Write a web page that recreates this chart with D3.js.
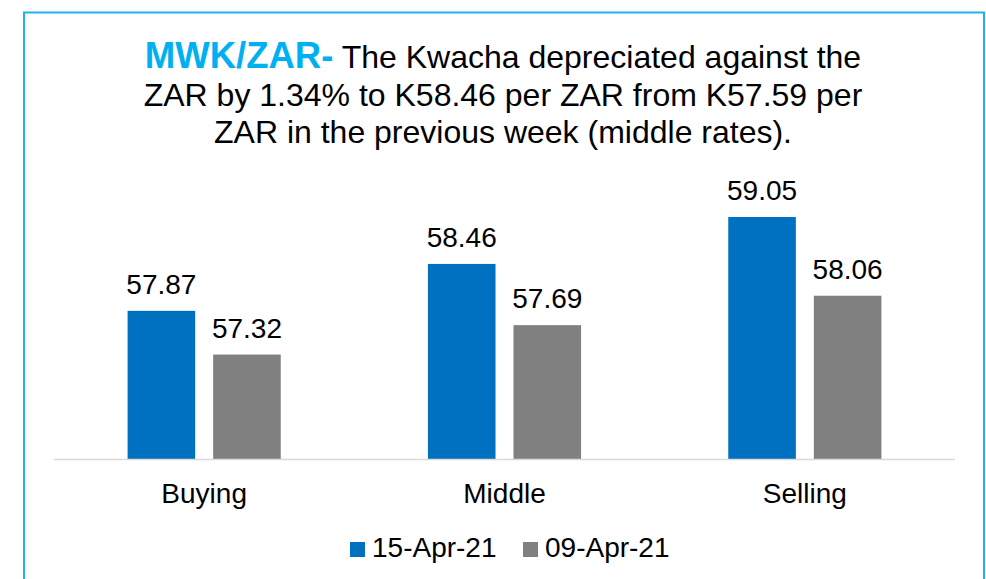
<!DOCTYPE html>
<html>
<head>
<meta charset="utf-8">
<script src="https://cdn.jsdelivr.net/npm/d3@7"></script>
<style>
  html, body { margin: 0; padding: 0; background: #fff; }
  svg { display: block; font-family: "Liberation Sans", Arial, sans-serif; }
</style>
</head>
<body>
<svg id="chart"></svg>
<script>
// data
const categories = ["Buying", "Middle", "Selling"];
const seriesNames = ["15-Apr-21", "09-Apr-21"];
const apr15 = [57.87, 58.46, 59.05];
const apr09 = [57.32, 57.69, 58.06];
const seriesColors = ["#0070c0", "#808080"];
const yDomain = [56, 60];

const width = 986;
const height = 579;

const svg = d3.select("#chart")
  .attr("width", width)
  .attr("height", height);

// frame
svg.append("rect")
  .attr("x", 24)
  .attr("y", 12.5)
  .attr("width", 960)
  .attr("height", 600)
  .attr("fill", "none")
  .attr("stroke", "#1cb4f0")
  .attr("stroke-width", 2);

// title
const title = svg.append("text")
  .attr("text-anchor", "middle")
  .attr("fill", "#000");

const titleLines = [
  " The Kwacha depreciated against the",
  "ZAR by 1.34% to K58.46 per ZAR from K57.59 per",
  "ZAR in the previous week (middle rates)."
];

title.append("tspan")
  .attr("x", 503)
  .attr("y", 67.5)
  .attr("font-size", 36.5)
  .attr("font-weight", "bold")
  .attr("fill", "#00b0f0")
  .text("MWK/ZAR-");
title.append("tspan")
  .attr("font-size", 32)
  .text(titleLines[0]);
title.append("tspan")
  .attr("x", 503)
  .attr("y", 105.5)
  .attr("font-size", 32)
  .text(titleLines[1]);
title.append("tspan")
  .attr("x", 503)
  .attr("y", 143)
  .attr("font-size", 32)
  .text(titleLines[2]);

// scales
const plotLeft = 54, plotRight = 955, plotBottom = 459.5, plotTop = 141.5;

const x0 = d3.scaleBand()
  .domain(categories)
  .range([plotLeft, plotRight])
  .paddingInner(0.49)
  .paddingOuter(0.245);

const x1 = d3.scaleBand()
  .domain(seriesNames)
  .range([0, x0.bandwidth()])
  .paddingInner(0.21);

const y = d3.scaleLinear()
  .domain(yDomain)
  .range([plotBottom, plotTop]);

const rows = categories.map((c, i) => ({
  category: c,
  values: [
    { name: seriesNames[0], value: apr15[i] },
    { name: seriesNames[1], value: apr09[i] }
  ]
}));

const color = d3.scaleOrdinal().domain(seriesNames).range(seriesColors);

// bars
const groups = svg.append("g")
  .selectAll("g")
  .data(rows)
  .join("g")
  .attr("transform", d => "translate(" + x0(d.category) + ",0)");

groups.selectAll("rect")
  .data(d => d.values)
  .join("rect")
  .attr("x", d => x1(d.name))
  .attr("y", d => y(d.value))
  .attr("width", x1.bandwidth())
  .attr("height", d => plotBottom - y(d.value))
  .attr("fill", d => color(d.name));

// value labels
groups.selectAll("text")
  .data(d => d.values)
  .join("text")
  .attr("x", d => x1(d.name) + x1.bandwidth() / 2)
  .attr("y", d => y(d.value) - 17)
  .attr("text-anchor", "middle")
  .attr("font-size", 28)
  .attr("fill", "#000")
  .text(d => d.value.toFixed(2));

// x axis
const xAxis = d3.axisBottom(x0).tickSize(0).tickPadding(0);
const gx = svg.append("g")
  .attr("transform", "translate(0," + plotBottom + ")")
  .call(xAxis);
gx.select(".domain").remove();
gx.selectAll("text")
  .attr("font-family", "Liberation Sans, Arial, sans-serif")
  .attr("font-size", 28)
  .attr("fill", "#000")
  .attr("dy", null)
  .attr("y", 43.5);

svg.append("line")
  .attr("x1", plotLeft)
  .attr("x2", plotRight)
  .attr("y1", plotBottom)
  .attr("y2", plotBottom)
  .attr("stroke", "#d9d9d9")
  .attr("stroke-width", 1.5);

// legend
const legendX = [350, 523];
const legend = svg.append("g")
  .selectAll("g")
  .data(seriesNames)
  .join("g")
  .attr("transform", (d, i) => "translate(" + legendX[i] + ",542)");

legend.append("rect")
  .attr("width", 15)
  .attr("height", 15)
  .attr("fill", d => color(d));

legend.append("text")
  .attr("x", 22)
  .attr("y", 15)
  .attr("font-size", 28)
  .attr("fill", "#000")
  .text(d => d);
</script>
</body>
</html>
